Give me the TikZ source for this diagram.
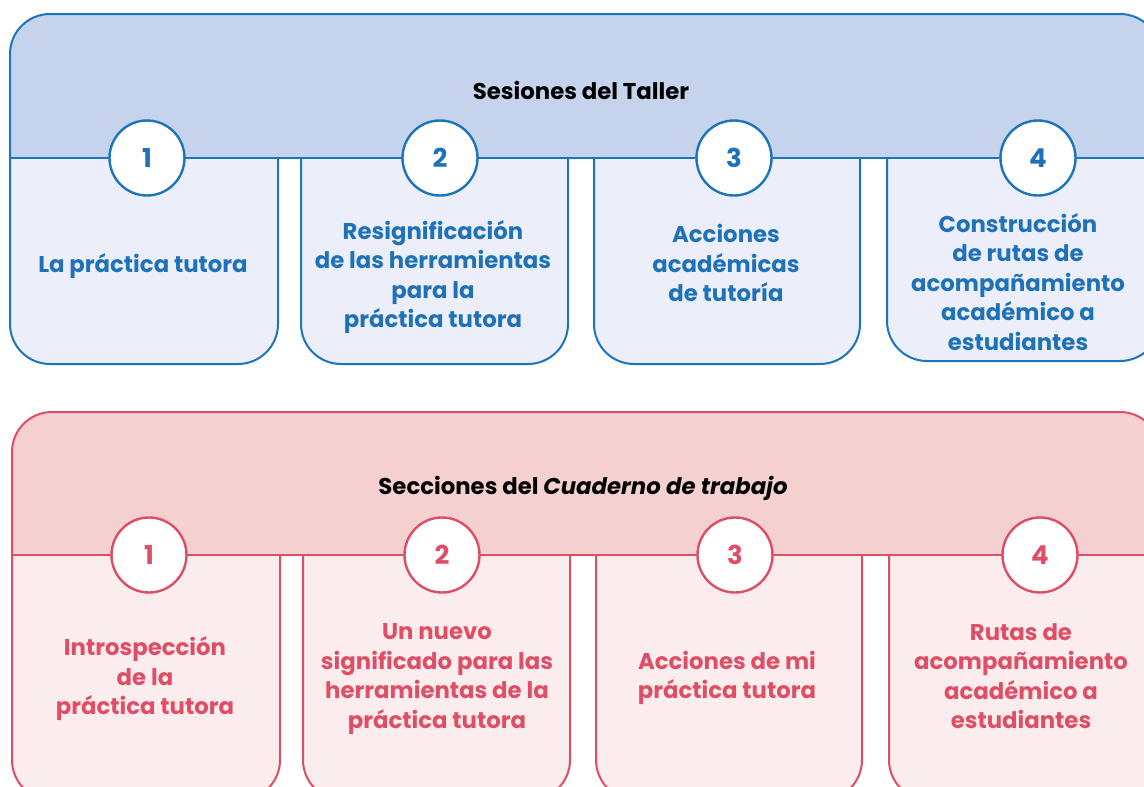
\documentclass[tikz,border=0pt]{standalone}
\usepackage{fontspec}
\setmainfont{Poppins}
\definecolor{bstroke}{HTML}{1C74BB}
\definecolor{bhead}{HTML}{C6D3EC}
\definecolor{bbox}{HTML}{ECEFFA}
\definecolor{btext}{HTML}{1F72B8}
\definecolor{rstroke}{HTML}{DD4E66}
\definecolor{rhead}{HTML}{F5D0D0}
\definecolor{rbox}{HTML}{FBEDEE}
\definecolor{rtext}{HTML}{DE4F66}
\begin{document}
\begin{tikzpicture}[x=1pt,y=-1pt,line width=2pt,
  numcirc/.style={circle,draw,fill=white,minimum size=75pt,inner sep=0pt,line width=2.4pt,font=\fontsize{26}{26}\selectfont\bfseries},
  boxtext/.style={align=center,font=\fontsize{22.8}{29.5}\selectfont\bfseries},
  titletext/.style={font=\fontsize{22.8}{26}\selectfont\bfseries,text=black},
  bluepart/.style={draw=bstroke},
  redpart/.style={draw=rstroke}]
\useasboundingbox (0,0) rectangle (1144,787);
\clip (0,0) rectangle (1144,787);

% ---------- top block ----------
\filldraw[bluepart,fill=bhead,rounded corners=40pt] (10,158) -- (10,14) -- (1160,14) -- (1160,158);
\filldraw[bluepart,fill=bbox,rounded corners=40pt] (10,158) -- (10,364) -- (278,364) -- (278,158);
\filldraw[bluepart,fill=bbox,rounded corners=40pt] (301,158) -- (301,364) -- (568,364) -- (568,158);
\filldraw[bluepart,fill=bbox,rounded corners=40pt] (594,158) -- (594,364) -- (860,364) -- (860,158);
\filldraw[bluepart,fill=bbox,rounded corners=40pt] (887,158) -- (887,361) -- (1160,361) -- (1160,158);
\draw[bluepart] (10,158) -- (1160,158);

\node[titletext] (ttitle) at (581,90) {Sesiones del Taller};
\node[numcirc,draw=bstroke,text=btext] (tc1) at (147,158) {1};
\node[numcirc,draw=bstroke,text=btext] (tc2) at (440,158) {2};
\node[numcirc,draw=bstroke,text=btext] (tc3) at (734,158) {3};
\node[numcirc,draw=bstroke,text=btext] (tc4) at (1038,158) {4};

\node[boxtext,text=btext] (tt1) at (143,266) {La práctica tutora};
\node[boxtext,text=btext] (tt2) at (433,277) {Resignificación\\de las herramientas\\para la\\práctica tutora};
\node[boxtext,text=btext] (tt3) at (726,263) {Acciones\\académicas\\de tutoría};
\node[boxtext,text=btext] (tt4) at (1018,282) {Construcción\\de rutas de\\acompañamiento\\académico a\\estudiantes};

% ---------- bottom block ----------
\filldraw[redpart,fill=rhead,rounded corners=40pt] (12,555) -- (12,412) -- (1160,412) -- (1160,555);
\filldraw[redpart,fill=rbox,rounded corners=40pt] (12,555) -- (12,800) -- (280,800) -- (280,555);
\filldraw[redpart,fill=rbox,rounded corners=40pt] (303,555) -- (303,800) -- (570,800) -- (570,555);
\filldraw[redpart,fill=rbox,rounded corners=40pt] (596,555) -- (596,800) -- (862,800) -- (862,555);
\filldraw[redpart,fill=rbox,rounded corners=40pt] (889,555) -- (889,800) -- (1160,800) -- (1160,555);
\draw[redpart] (12,555) -- (1160,555);

\node[titletext] (btitle) at (583,488) {Secciones del \textit{Cuaderno de trabajo}};
\node[numcirc,draw=rstroke,text=rtext] (bc1) at (149,555) {1};
\node[numcirc,draw=rstroke,text=rtext] (bc2) at (442,555) {2};
\node[numcirc,draw=rstroke,text=rtext] (bc3) at (735,555) {3};
\node[numcirc,draw=rstroke,text=rtext] (bc4) at (1040,555) {4};

\node[boxtext,text=rtext] (bt1) at (145,679) {Introspección\\de la\\práctica tutora};
\node[boxtext,text=rtext] (bt2) at (437,679) {Un nuevo\\significado para las\\herramientas de la\\práctica tutora};
\node[boxtext,text=rtext] (bt3) at (727,678) {Acciones de mi\\práctica tutora};
\node[boxtext,text=rtext] (bt4) at (1021,676) {Rutas de\\acompañamiento\\académico a\\estudiantes};
\end{tikzpicture}
\end{document}
